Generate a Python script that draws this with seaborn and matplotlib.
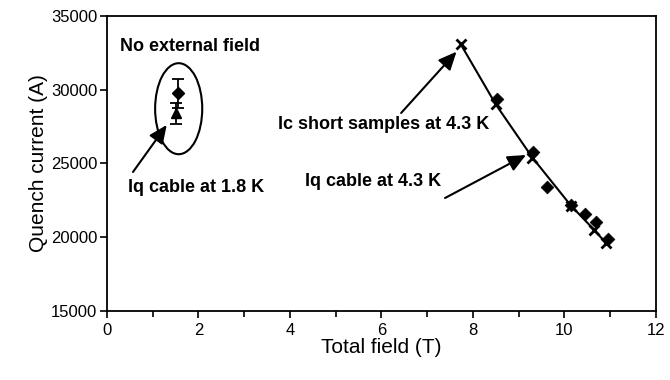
import matplotlib
matplotlib.use("Agg")
import matplotlib.pyplot as plt
from matplotlib.patches import Ellipse
from matplotlib.ticker import MultipleLocator
import seaborn as sns
import pandas as pd

# Short-sample critical current at 4.3 K (crosses joined by a line)
ic_field = [7.73, 8.50, 9.30, 10.14, 10.65, 10.91]
ic_current = [33100, 29000, 25400, 22150, 20500, 19600]

# Cable quench current at 4.3 K (diamonds)
iq43_field = [8.52, 9.32, 9.61, 10.15, 10.45, 10.70, 10.96]
iq43_current = [29350, 25800, 23400, 22200, 21600, 21050, 19900]

# Cable quench current at 1.8 K without external field
iq18_field = [1.55, 1.50]
iq18_current = [29750, 28400]
iq18_error = [1000, 700]
iq18_marker = ["D", "^"]

x_ticks = [0, 2, 4, 6, 8, 10, 12]
y_ticks = [15000, 20000, 25000, 30000, 35000]

sns.set_theme(style="ticks")
plt.rcParams["font.family"] = ["Liberation Sans", "DejaVu Sans"]

fig = plt.figure(figsize=(6.7, 3.8), dpi=100)
ax = fig.add_axes([0.1597, 0.1816, 0.8193, 0.7763])

ic_df = pd.DataFrame({"field": ic_field, "current": ic_current})
iq_df = pd.DataFrame({"field": iq43_field, "current": iq43_current})

sns.lineplot(data=ic_df, x="field", y="current", ax=ax, color="black",
             linewidth=1.5, marker="x", markersize=7, markeredgewidth=2,
             markeredgecolor="black", zorder=3)
sns.scatterplot(data=iq_df, x="field", y="current", ax=ax, marker="D",
                s=42, color="black", edgecolor="black", zorder=4)

for fx, cy, err, mk in zip(iq18_field, iq18_current, iq18_error, iq18_marker):
    ax.errorbar(fx, cy, yerr=err, fmt=mk, color="black",
                markersize=6 if mk == "D" else 7, capsize=4,
                elinewidth=1.3, capthick=1.3, zorder=4)

ax.add_patch(Ellipse((1.567, 28715), 1.03, 6170, fill=False,
                     edgecolor="black", linewidth=1.5))

text_kw = dict(fontsize=13, fontweight="bold", color="black")
ax.text(0.28, 32920, "No external field", ha="left", va="center", **text_kw)

arrow = dict(arrowstyle="-|>,head_length=1.0,head_width=0.45",
             color="black", lw=1.5, shrinkA=0, shrinkB=0, mutation_scale=11)
ax.annotate("", xy=(1.305, 27610), xytext=(0.568, 24424), arrowprops=arrow)
ax.text(0.46, 23340, "Iq cable at 1.8 K", ha="left", va="center", **text_kw)

ax.annotate("", xy=(7.64, 32580), xytext=(6.43, 28424), arrowprops=arrow)
ax.text(3.74, 27610, "Ic short samples at 4.3 K", ha="left", va="center", **text_kw)

ax.annotate("", xy=(9.16, 25576), xytext=(7.39, 22660), arrowprops=arrow)
ax.text(4.33, 23750, "Iq cable at 4.3 K", ha="left", va="center", **text_kw)

ax.set_xlim(0, 12)
ax.set_ylim(15000, 35000)
ax.set_xticks(x_ticks)
ax.set_yticks(y_ticks)
ax.xaxis.set_minor_locator(MultipleLocator(1))
ax.tick_params(axis="both", which="major", direction="out", length=5,
               width=1.2, color="black", labelsize=12, labelcolor="black")
ax.tick_params(axis="y", which="major", pad=2)
ax.tick_params(axis="x", which="minor", direction="out", length=4,
               width=1.2, color="black")
ax.set_xlabel("Total field (T)", fontsize=15, color="black", labelpad=0)
ax.set_ylabel("Quench current (A)", fontsize=15, color="black", labelpad=2)

for side in ["left", "right", "top", "bottom"]:
    ax.spines[side].set_visible(True)
    ax.spines[side].set_color("black")
    ax.spines[side].set_linewidth(1.3)

ax.grid(False)
fig.savefig("out.png", dpi=100, facecolor="white")
